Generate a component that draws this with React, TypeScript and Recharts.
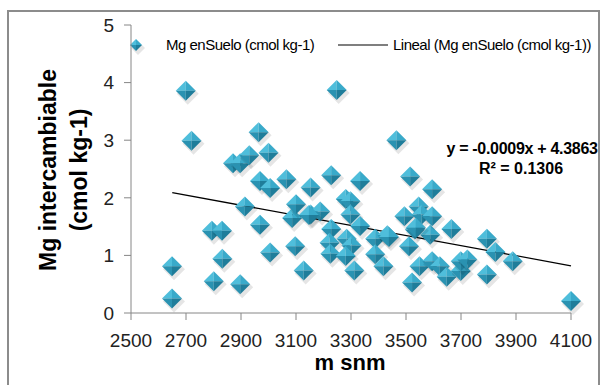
import { ScatterChart, Scatter, XAxis, YAxis, Customized } from "recharts";

// altitude (m snm) and exchangeable Mg (cmol kg-1)
const altitud = [
  2649, 2649, 2699, 2720, 2801, 2794, 2831, 2832, 2871, 2897, 2930, 2897, 2914, 2964, 2969,
  2969, 3000, 3006, 3006, 3065, 3086, 3100, 3097, 3128, 3153, 3153, 3188, 3228, 3248, 3228,
  3222, 3225, 3281, 3298, 3298, 3284, 3302, 3281, 3312, 3333, 3333, 3388, 3388, 3418, 3432,
  3438, 3465, 3494, 3515, 3511, 3522, 3532, 3546, 3557, 3549, 3588, 3595, 3595, 3595, 3623,
  3648, 3665, 3699, 3699, 3723, 3794, 3794, 3825, 3888, 4100, 3147, 3536,
];
const mgSuelo = [
  0.81, 0.25, 3.86, 2.99, 0.55, 1.43, 1.43, 0.94, 2.6, 2.6, 2.74, 0.5, 1.85, 3.14, 2.29,
  1.53, 2.78, 2.17, 1.05, 2.32, 1.65, 1.89, 1.16, 0.74, 2.18, 1.71, 1.76, 2.39, 3.87, 1.46,
  1.22, 1.03, 1.98, 1.94, 1.71, 1.29, 1.17, 0.99, 0.74, 2.29, 1.51, 1.29, 1.02, 0.81, 1.35,
  1.32, 3.0, 1.68, 2.37, 1.16, 0.53, 1.45, 1.85, 1.71, 0.81, 1.36, 2.15, 1.68, 0.9, 0.81,
  0.63, 1.46, 0.73, 0.9, 0.93, 1.29, 0.67, 1.06, 0.9, 0.21, 1.7, 1.48,
];

// ends of the drawn linear trend line
const trendX = [2650, 4100];
const trendY = [2.09, 0.82];

const xTicks = [2500, 2700, 2900, 3100, 3300, 3500, 3700, 3900, 4100];
const yTicks = [0, 1, 2, 3, 4, 5];

const puntos = altitud.map((x, i) => ({ x, y: mgSuelo[i] }));
const tendencia = trendX.map((x, i) => ({ x, y: trendY[i] }));

const narrow = "'Liberation Sans Narrow', 'Liberation Sans', Arial, sans-serif";
const sans = "'Liberation Sans', Arial, sans-serif";

function diamondPath(cx: number, cy: number, r: number) {
  return `M${cx},${cy - r} L${cx + r},${cy} L${cx},${cy + r} L${cx - r},${cy} Z`;
}

function Diamond({ cx, cy, r = 10 }: any) {
  if (cx == null || cy == null) return <g />;
  return (
    <g>
      <path d={diamondPath(cx + 2, cy + 3, r + 1)} fill="#000" opacity={0.1} />
      <path d={`M${cx},${cy - r} L${cx - r},${cy} L${cx},${cy} Z`} fill="#4FBEDB" />
      <path d={`M${cx},${cy - r} L${cx + r},${cy} L${cx},${cy} Z`} fill="#39AACA" />
      <path d={`M${cx - r},${cy} L${cx},${cy + r} L${cx},${cy} Z`} fill="#2A92B1" />
      <path d={`M${cx + r},${cy} L${cx},${cy + r} L${cx},${cy} Z`} fill="#1F7D9A" />
    </g>
  );
}

function Extras() {
  return (
    <g>
      {/* legend */}
      <Diamond cx={136} cy={45} r={6} />
      <text x={166} y={50} fontFamily={narrow} fontSize={15} fill="#000" letterSpacing={-0.5}>
        Mg enSuelo (cmol kg-1)
      </text>
      <line x1={338} y1={45} x2={388} y2={45} stroke="#000" strokeWidth={1.2} />
      <text x={393} y={50} fontFamily={narrow} fontSize={15} fill="#000" letterSpacing={-0.5}>
        Lineal (Mg enSuelo (cmol kg-1))
      </text>
      {/* trend equation */}
      <text x={522} y={154} textAnchor="middle" fontFamily={narrow} fontWeight="bold" fontSize={16} fill="#000" letterSpacing={-0.3}>
        y = -0.0009x + 4.3863
      </text>
      <text x={521} y={174} textAnchor="middle" fontFamily={narrow} fontWeight="bold" fontSize={16} fill="#000">
        R² = 0.1306
      </text>
      {/* axis titles */}
      <text
        transform="translate(48,170) rotate(-90)"
        textAnchor="middle"
        dominantBaseline="central"
        fontFamily={sans}
        fontWeight="bold"
        fontSize={23}
        fill="#000"
      >
        Mg intercambiable
      </text>
      <text
        transform="translate(79,170) rotate(-90)"
        textAnchor="middle"
        dominantBaseline="central"
        fontFamily={sans}
        fontWeight="bold"
        fontSize={23}
        fill="#000"
      >
        (cmol kg-1)
      </text>
      <text x={350} y={370} textAnchor="middle" fontFamily={sans} fontWeight="bold" fontSize={22} fill="#000">
        m snm
      </text>
    </g>
  );
}

export default function App() {
  return (
    <div style={{ position: "absolute", left: 0, top: 0, width: 603, height: 385, background: "#fff", overflow: "hidden" }}>
      <div
        style={{
          position: "absolute",
          left: 7,
          top: 10,
          width: 593,
          height: 400,
          border: "2px solid #8c8c8c",
          boxSizing: "border-box",
        }}
      />
      <div style={{ position: "absolute", left: 0, top: 0 }}>
        <ScatterChart width={603} height={385} margin={{ top: 25, right: 32, bottom: 42, left: 71 }}>
          <XAxis
            type="number"
            dataKey="x"
            domain={[2500, 4100]}
            ticks={xTicks}
            height={30}
            stroke="#868686"
            tickSize={7}
            tickMargin={14}
            tick={{ fill: "#222", fontSize: 19, fontFamily: narrow }}
            interval={0}
          />
          <YAxis
            type="number"
            dataKey="y"
            domain={[0, 5]}
            ticks={yTicks}
            width={60}
            stroke="#868686"
            tickSize={7}
            tickMargin={10}
            tick={{ fill: "#222", fontSize: 19, fontFamily: narrow }}
            interval={0}
          />
          <Scatter data={tendencia} line={{ stroke: "#000", strokeWidth: 1.3 }} shape={() => <g />} isAnimationActive={false} />
          <Scatter data={puntos} shape={(p: any) => <Diamond cx={p.cx} cy={p.cy} />} isAnimationActive={false} />
          <Customized component={Extras} />
        </ScatterChart>
      </div>
    </div>
  );
}
